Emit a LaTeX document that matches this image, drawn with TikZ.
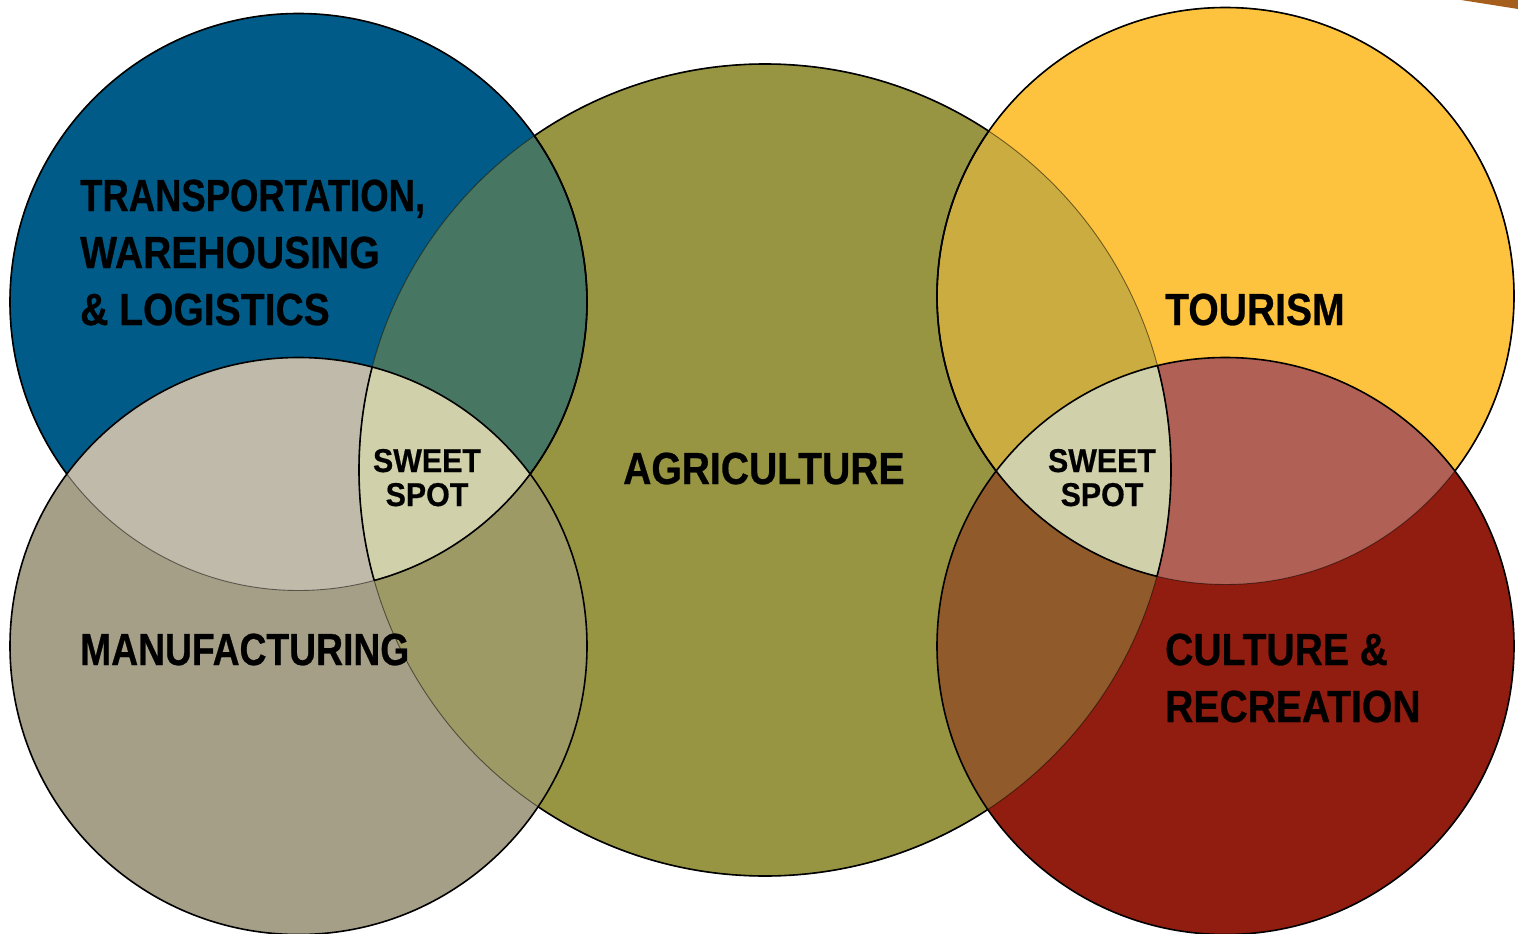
\documentclass[tikz,border=0pt]{standalone}
\usepackage{fontspec}
\newfontfamily\lab[FakeStretch=0.868,FakeBold=0.6]{Liberation Sans}
\newfontfamily\labn[FakeStretch=0.81,FakeBold=0.6]{Liberation Sans}
\newfontfamily\labm[FakeStretch=0.828,FakeBold=0.6]{Liberation Sans}
\newfontfamily\labs[FakeStretch=0.92,FakeBold=0.5]{Liberation Sans}
\definecolor{cblue}{HTML}{005B88}
\definecolor{cmanu}{HTML}{A59F88}
\definecolor{cagri}{HTML}{979542}
\definecolor{ctour}{HTML}{FEC33E}
\definecolor{ccult}{HTML}{901D0F}
\definecolor{cba}{HTML}{477762}
\definecolor{cbm}{HTML}{C0BAAA}
\definecolor{cma}{HTML}{9E9A66}
\definecolor{csweet}{HTML}{D0D1AA}
\definecolor{cta}{HTML}{CBAC40}
\definecolor{cca}{HTML}{915A2A}
\definecolor{ctc}{HTML}{B06055}
\definecolor{ccorner}{HTML}{A65E1C}
\def\cB{(298.5,302) circle[radius=288.5pt]}
\def\cM{(298.5,646) circle[radius=288.5pt]}
\def\cA{(765,470) circle[radius=406pt]}
\def\cT{(1225.5,296) circle[radius=288.5pt]}
\def\cC{(1225.5,646) circle[radius=288.5pt]}
\def\rect{(-10,-10) rectangle (1530,950)}
\tikzset{
  strong/.style={draw=black,line width=1.6pt},
  faint/.style={draw=black,draw opacity=0.5,line width=0.9pt},
  big/.style={font=\lab\bfseries\fontsize{45}{45}\selectfont,inner sep=0pt,anchor=base west},
  small/.style={font=\labs\bfseries\fontsize{33}{33}\selectfont,inner sep=0pt,anchor=base},
}
\begin{document}
\begin{tikzpicture}[x=1pt,y=-1pt]
\useasboundingbox (0,0) rectangle (1518,934);
\fill[white] (0,0) rectangle (1518,934);
\fill[ccorner] (1461,0) -- (1518,0) -- (1518,9) -- cycle;
% base fills
\fill[cblue] \cB;
\fill[cagri] \cA;
\fill[cmanu] \cM;
\fill[ctour] \cT;
\fill[ccult] \cC;
% pairwise
\begin{scope}\clip \cB; \fill[cba] \cA; \fill[cbm] \cM; \end{scope}
\begin{scope}\clip \cM; \fill[cma] \cA; \end{scope}
\begin{scope}\clip \cB; \clip \cM; \fill[csweet] \cA; \end{scope}
\begin{scope}\clip \cT; \fill[cta] \cA; \fill[ctc] \cC; \end{scope}
\begin{scope}\clip \cC; \fill[cca] \cA; \end{scope}
\begin{scope}\clip \cT; \clip \cC; \fill[csweet] \cA; \end{scope}
% outlines: faint everywhere
\path[faint] \cA; \path[faint] \cB; \path[faint] \cT;
% agriculture strong outside others
\begin{scope}[even odd rule]\clip \rect \cB \cM \cT \cC; \path[strong] \cA; \end{scope}
% blue/tourism strong outside lower circle or inside agriculture
\begin{scope}[even odd rule]\clip \rect \cM; \path[strong] \cB; \end{scope}
\begin{scope}\clip \cA; \path[strong] \cB; \path[strong] \cT; \end{scope}
\begin{scope}[even odd rule]\clip \rect \cC; \path[strong] \cT; \end{scope}
\path[strong] \cM;
\path[strong] \cC;
% labels
\node[big,font=\labn\bfseries\fontsize{45}{45}\selectfont] (t1) at (80,211) {TRANSPORTATION,};
\node[big] (t2) at (80,268) {WAREHOUSING};
\node[big] (t3) at (80,325) {\&~LOGISTICS};
\node[big,font=\labm\bfseries\fontsize{45}{45}\selectfont] (man) at (80,665) {MANUFACTURING};
\node[big] (agr) at (623,484) {AGRICULTURE};
\node[big] (tou) at (1165,325) {TOURISM};
\node[big] (cu1) at (1165,665) {CULTURE \&};
\node[big] (cu2) at (1165,722) {RECREATION};
\node[small] (s1a) at (427,472) {SWEET};
\node[small] (s1b) at (427,506) {SPOT};
\node[small] (s2a) at (1102,472) {SWEET};
\node[small] (s2b) at (1102,506) {SPOT};
\end{tikzpicture}
\end{document}
